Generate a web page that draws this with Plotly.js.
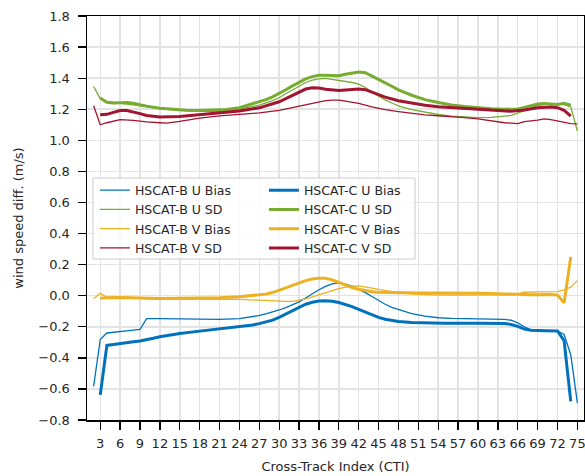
<!DOCTYPE html>
<html>
<head>
<meta charset="utf-8">
<script src="https://cdn.plot.ly/plotly-3.0.1.min.js"></script>
<style>html,body{margin:0;padding:0;background:#fff;}#chart{width:585px;height:476px;}</style>
</head>
<body>
<div id="chart"></div>
<script>
// ---- data ----
var xTicks = [3,6,9,12,15,18,21,24,27,30,33,36,39,42,45,48,51,54,57,60,63,66,69,72,75];
var yTicks = [-0.8,-0.6,-0.4,-0.2,0.0,0.2,0.4,0.6,0.8,1.0,1.2,1.4,1.6,1.8];

var bUBiasX = [2,3,4,6,8,9,10,12,15,18,21,24,26,27,28,29,30,31,32,33,34,35,36,37,38,39,40,41,42,43,44,45,46,47,48,50,52,54,56,58,60,62,64,65,66,67,68,70,72,73,74,75];
var bUBiasY = [-0.584,-0.282,-0.24,-0.233,-0.222,-0.217,-0.148,-0.148,-0.15,-0.152,-0.152,-0.148,-0.135,-0.127,-0.117,-0.106,-0.092,-0.077,-0.058,-0.04,-0.015,0.012,0.038,0.06,0.076,0.082,0.075,0.062,0.042,0.02,-0.005,-0.032,-0.055,-0.075,-0.09,-0.115,-0.132,-0.142,-0.146,-0.147,-0.149,-0.15,-0.153,-0.158,-0.175,-0.2,-0.222,-0.224,-0.227,-0.25,-0.38,-0.69];

var bUSdX = [2,3,4,6,9,12,15,18,21,24,27,29,30,31,32,33,34,35,36,37,38,39,40,41,42,43,44,45,46,47,48,50,52,54,56,58,60,62,64,65,66,67,68,69,71,72,73,74,75];
var bUSdY = [1.346,1.268,1.25,1.237,1.222,1.204,1.193,1.187,1.187,1.2,1.226,1.255,1.274,1.3,1.325,1.35,1.372,1.387,1.395,1.398,1.392,1.385,1.378,1.372,1.362,1.34,1.31,1.283,1.26,1.24,1.222,1.198,1.18,1.166,1.155,1.149,1.146,1.148,1.153,1.16,1.175,1.192,1.21,1.225,1.236,1.235,1.23,1.215,1.06];

var bVBiasX = [2,3,4,6,8,10,12,15,18,21,24,27,29,31,32,33,34,35,36,37,38,39,40,41,42,43,44,45,46,48,50,53,57,61,65,66,67,69,72,73,74,75];
var bVBiasY = [-0.02,0.015,-0.011,-0.008,-0.012,-0.02,-0.022,-0.022,-0.022,-0.022,-0.024,-0.029,-0.034,-0.037,-0.036,-0.03,-0.02,-0.007,0.007,0.02,0.033,0.045,0.055,0.062,0.063,0.057,0.048,0.04,0.032,0.02,0.012,0.006,0.004,0.004,0.005,0.012,0.022,0.025,0.026,0.038,0.055,0.097];

var bVSdX = [2,3,4,6,8,10,12,13,15,18,21,24,27,30,33,35,36,37,38,39,40,41,42,44,46,48,50,52,54,56,58,60,62,64,66,67,69,70,71,72,73,74,75];
var bVSdY = [1.222,1.1,1.113,1.133,1.128,1.118,1.113,1.11,1.122,1.143,1.157,1.167,1.176,1.193,1.22,1.238,1.248,1.255,1.258,1.258,1.252,1.244,1.237,1.215,1.197,1.185,1.174,1.164,1.158,1.153,1.146,1.138,1.126,1.113,1.108,1.12,1.13,1.138,1.133,1.125,1.113,1.108,1.106];

var cUBiasX = [3,4,5,6,7,8,9,10,11,12,13,15,18,21,24,26,27,28,29,30,31,32,33,34,35,36,37,38,39,40,41,42,43,44,45,46,47,48,50,52,55,60,64,65,66,67,68,70,72,73,74];
var cUBiasY = [-0.638,-0.32,-0.314,-0.307,-0.302,-0.297,-0.292,-0.285,-0.274,-0.264,-0.256,-0.243,-0.228,-0.213,-0.2,-0.188,-0.18,-0.17,-0.157,-0.14,-0.118,-0.095,-0.075,-0.055,-0.042,-0.034,-0.033,-0.036,-0.044,-0.055,-0.07,-0.088,-0.107,-0.125,-0.14,-0.152,-0.16,-0.166,-0.173,-0.176,-0.177,-0.177,-0.179,-0.185,-0.197,-0.215,-0.222,-0.225,-0.227,-0.29,-0.68];

var cUSdX = [3,4,5,6,7,8,9,10,12,14,16,18,20,22,24,26,27,28,29,30,31,32,33,34,35,36,37,38,39,40,41,42,43,44,45,46,47,48,50,52,54,56,58,60,62,64,66,67,68,69,70,71,72,73,74];
var cUSdY = [1.272,1.245,1.24,1.242,1.243,1.238,1.228,1.22,1.206,1.198,1.193,1.192,1.193,1.198,1.21,1.235,1.245,1.262,1.28,1.3,1.325,1.35,1.372,1.395,1.41,1.418,1.418,1.415,1.415,1.425,1.435,1.44,1.435,1.415,1.39,1.37,1.348,1.325,1.29,1.262,1.243,1.228,1.218,1.21,1.203,1.2,1.202,1.212,1.225,1.233,1.237,1.232,1.23,1.238,1.226];

var cVBiasX = [3,4,6,9,12,15,18,21,24,26,27,28,29,30,31,32,33,34,35,36,37,38,39,40,41,42,43,44,45,48,51,54,57,60,63,66,68,71,72,73,74];
var cVBiasY = [-0.017,-0.013,-0.012,-0.017,-0.018,-0.017,-0.016,-0.014,-0.007,0.0,0.004,0.01,0.02,0.033,0.05,0.066,0.082,0.097,0.108,0.113,0.112,0.102,0.085,0.067,0.053,0.041,0.032,0.026,0.022,0.018,0.017,0.017,0.017,0.015,0.012,0.008,0.006,0.008,0.004,-0.045,0.25];

var cVSdX = [3,4,5,6,7,8,9,10,11,12,15,18,21,24,27,29,30,31,32,33,34,35,36,37,38,39,40,41,42,43,44,45,46,48,50,52,54,56,58,60,63,65,67,69,71,72,73,74];
var cVSdY = [1.165,1.167,1.18,1.192,1.192,1.183,1.172,1.16,1.153,1.15,1.154,1.167,1.176,1.189,1.209,1.232,1.248,1.268,1.29,1.31,1.33,1.338,1.336,1.328,1.322,1.32,1.324,1.328,1.33,1.326,1.31,1.292,1.278,1.255,1.238,1.225,1.216,1.21,1.204,1.2,1.193,1.187,1.195,1.21,1.215,1.21,1.193,1.155];

var names = ['HSCAT-B U Bias','HSCAT-B U SD','HSCAT-B V Bias','HSCAT-B V SD',
             'HSCAT-C U Bias','HSCAT-C U SD','HSCAT-C V Bias','HSCAT-C V SD'];

// ---- styling ----
var BLUE = '#0072BD', GREEN = '#77AC30', YELLOW = '#EDB120', RED = '#A2142F';
var THIN = 1.3, THICK = 3;
var FONT = 'DejaVu Sans, sans-serif';

function tr(x, y, name, color, w, legend) {
  return {x: x, y: y, name: name, type: 'scatter', mode: 'lines',
          line: {color: color, width: w}, legend: legend};
}

var data = [
  tr(bUBiasX, bUBiasY, names[0], BLUE, THIN, 'legend'),
  tr(bUSdX, bUSdY, names[1], GREEN, THIN, 'legend'),
  tr(bVBiasX, bVBiasY, names[2], YELLOW, THIN, 'legend'),
  tr(bVSdX, bVSdY, names[3], RED, THIN, 'legend'),
  tr(cUBiasX, cUBiasY, names[4], BLUE, THICK, 'legend2'),
  tr(cUSdX, cUSdY, names[5], GREEN, THICK, 'legend2'),
  tr(cVBiasX, cVBiasY, names[6], YELLOW, THICK, 'legend2'),
  tr(cVSdX, cVSdY, names[7], RED, THICK, 'legend2')
];

var axisCommon = {
  ticks: 'outside', ticklen: 8, tickwidth: 1.3, tickcolor: '#000',
  showgrid: true, gridcolor: '#e3e3e3', gridwidth: 1.5,
  showline: true, mirror: true, linecolor: '#000', linewidth: 1.5,
  zeroline: false, automargin: false,
  tickfont: {family: FONT, size: 13, color: '#262626'}
};

var legendCommon = {
  bgcolor: 'rgba(0,0,0,0)', borderwidth: 0,
  font: {family: FONT, size: 12.5, color: '#262626'},
  xanchor: 'left', yanchor: 'top', traceorder: 'normal', tracegroupgap: 0
};

var layout = {
  width: 585, height: 476,
  margin: {l: 87, r: 1, t: 16, b: 56},
  paper_bgcolor: '#fff', plot_bgcolor: '#fff',
  font: {family: FONT, size: 13, color: '#262626'},
  xaxis: Object.assign({}, axisCommon, {
    range: [1, 76], tickmode: 'array', tickvals: xTicks,
    ticktext: xTicks.map(String), ticklabeloverflow: 'allow', ticklabelstandoff: 3,
    title: {text: 'Cross-Track Index (CTI)', font: {family: FONT, size: 13, color: '#262626'}, standoff: 12}
  }),
  yaxis: Object.assign({}, axisCommon, {
    range: [-0.8, 1.8], tickmode: 'array', tickvals: yTicks, tickformat: '.1f',
    ticklabelstandoff: 5,
    title: {text: 'wind speed diff. (m/s)', font: {family: FONT, size: 13, color: '#262626'}, standoff: 12}
  }),
  showlegend: true,
  legend: Object.assign({}, legendCommon, {x: 0.016, y: 0.605}),
  legend2: Object.assign({}, legendCommon, {x: 0.356, y: 0.605}),
  shapes: [{
    type: 'rect', xref: 'paper', yref: 'paper', layer: 'above',
    x0: 0.012, x1: 0.66, y0: 0.3985, y1: 0.599,
    fillcolor: 'rgba(255,255,255,0.8)', line: {color: '#cccccc', width: 1}
  }]
};

Plotly.newPlot('chart', data, layout, {displayModeBar: false, staticPlot: true});
</script>
</body>
</html>
